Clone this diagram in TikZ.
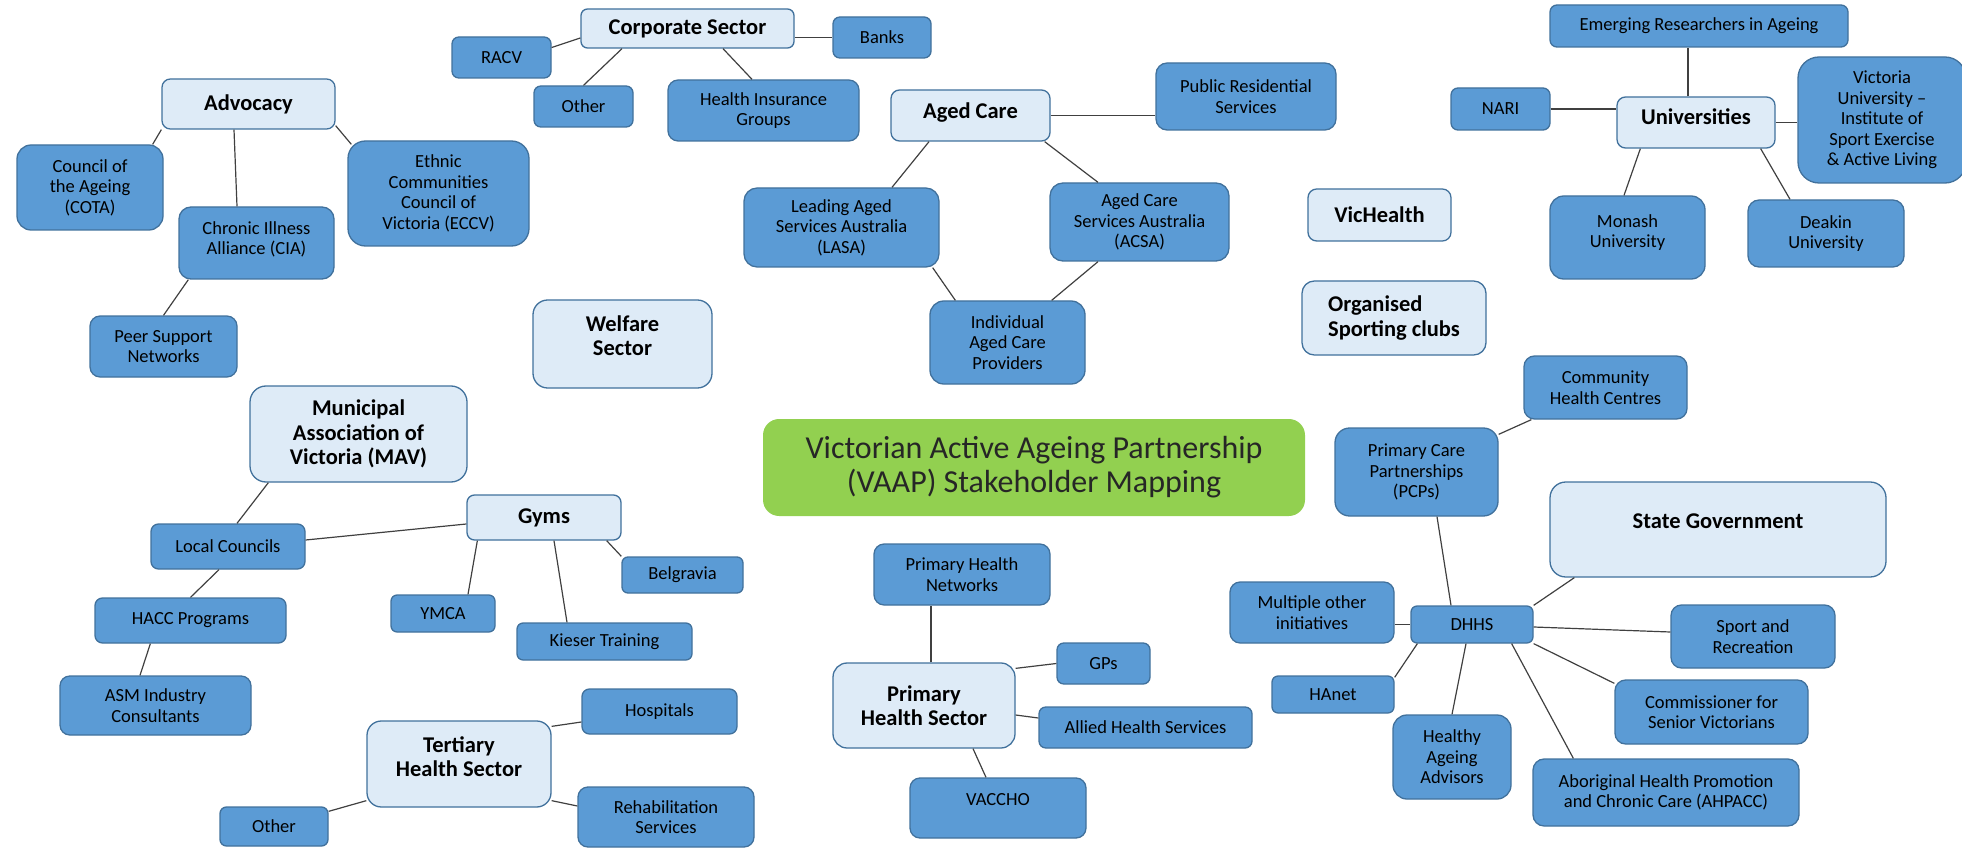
\documentclass[tikz,border=0pt]{standalone}
\usepackage{fontspec}
\setmainfont{Carlito}
\usepackage{xcolor}
\usepackage{tikz}

\definecolor{leafblue}{HTML}{5B9BD5}
\definecolor{edgeblue}{HTML}{41719C}
\definecolor{hubfill}{HTML}{DEEBF7}
\definecolor{titlegreen}{HTML}{92D050}
\definecolor{linkgray}{HTML}{404040}

\begin{document}
\begin{tikzpicture}[x=1pt,y=-1pt,
    base/.style={draw=edgeblue,line width=1.3pt,align=center,inner sep=2pt},
    leaf/.style={base,fill=leafblue,text=black,font=\fontsize{18.5}{20.5}\selectfont},
    hub/.style={base,fill=hubfill,text=black,font=\bfseries\fontsize{22.5}{24.5}\selectfont},
    dims/.style 2 args={minimum width=#1pt,minimum height=#2pt,rounded corners={min(#1,#2)/6}},
    link/.style={draw=linkgray,line width=1.2pt}]
  \useasboundingbox (0,0) rectangle (1962,850);

  % title
  \node [dims={542}{97},fill=titlegreen,text=black!85,align=center,
         font=\fontsize{32}{34}\selectfont] (title) at (1034,467.5)
        {Victorian Active Ageing Partnership\\(VAAP) Stakeholder Mapping};

  % advocacy
  \node [hub,dims={173}{50}] (adv) at (248.5,104) {Advocacy};
  \node [leaf,dims={146}{85}] (cota) at (90,187.5) {Council of\\the Ageing\\(COTA)};
  \node [leaf,dims={155}{72}] (cia) at (256.5,243) {Chronic Illness\\Alliance (CIA)\\[-10.5pt]\mbox{}};
  \node [leaf,dims={181}{105}] (eccv) at (438.5,193.5) {Ethnic\\Communities\\Council of\\Victoria (ECCV)};
  \node [leaf,dims={147}{61}] (peer) at (163.5,346.5) {Peer Support\\Networks};
  \node [hub,dims={179}{88}] (welfare) at (622.5,344) {Welfare\\Sector\\[-8pt]\mbox{}};

  % corporate sector
  \node [hub,dims={213}{39}] (corp) at (687.5,28.5) {Corporate Sector};
  \node [leaf,dims={99}{41}] (racv) at (501.5,57.5) {RACV};
  \node [leaf,dims={99}{41}] (other1) at (583.5,106.5) {Other};
  \node [leaf,dims={98}{41}] (banks) at (882,37.5) {Banks};
  \node [leaf,dims={191}{61}] (hig) at (763.5,110.5) {Health Insurance\\Groups};

  % aged care
  \node [hub,dims={159}{51}] (aged) at (970.5,115.5) {Aged Care\\[-15.5pt]\mbox{}};
  \node [leaf,dims={180}{67}] (prs) at (1246,96.5) {Public Residential\\Services};
  \node [leaf,dims={195}{79}] (lasa) at (841.5,227.5) {Leading Aged\\Services Australia\\(LASA)};
  \node [leaf,dims={179}{78}] (acsa) at (1139.5,222) {Aged Care\\Services Australia\\(ACSA)};
  \node [leaf,dims={155}{83}] (iacp) at (1007.5,342.5) {Individual\\Aged Care\\Providers};

  \node [hub,dims={143}{52}] (vich) at (1379.5,215) {VicHealth};
  \node [hub,dims={184}{74},align=left] (orgs) at (1394,318) {Organised\\Sporting clubs};

  % universities
  \node [leaf,dims={298}{42}] (emerg) at (1699,26) {Emerging Researchers in Ageing};
  \node [leaf,dims={99}{42}] (nari) at (1500.5,109) {NARI};
  \node [hub,dims={158}{51}] (univ) at (1696,122.5) {Universities\\[-13pt]\mbox{}};
  \node [leaf,dims={168}{126}] (vu) at (1882,120) {Victoria\\University --\\Institute of\\Sport Exercise\\\& Active Living};
  \node [leaf,dims={155}{83}] (monash) at (1627.5,237.5) {Monash\\University\\[-7.5pt]\mbox{}};
  \node [leaf,dims={156}{67}] (deakin) at (1826,233.5) {Deakin\\University};

  % local government
  \node [hub,dims={217}{96}] (mav) at (358.5,434) {Municipal\\Association of\\Victoria (MAV)};
  \node [leaf,dims={154}{45}] (lc) at (228,546.5) {Local Councils};
  \node [leaf,dims={191}{45}] (hacc) at (190.5,620.5) {HACC Programs};
  \node [leaf,dims={191}{59}] (asm) at (155.5,705.5) {ASM Industry\\Consultants};
  \node [hub,dims={154}{45}] (gyms) at (544,517.5) {Gyms};
  \node [leaf,dims={104}{37}] (ymca) at (443,613.5) {YMCA};
  \node [leaf,dims={175}{37}] (kieser) at (604.5,641.5) {Kieser Training};
  \node [leaf,dims={121}{36}] (belg) at (682.5,575) {Belgravia};

  % tertiary health
  \node [hub,dims={184}{86}] (tert) at (459,764) {Tertiary\\Health Sector\\[-10pt]\mbox{}};
  \node [leaf,dims={155}{45}] (hosp) at (659.5,711.5) {Hospitals};
  \node [leaf,dims={176}{60}] (rehab) at (666,817) {Rehabilitation\\Services};
  \node [leaf,dims={108}{39}] (other2) at (274,826.5) {Other};

  % primary health
  \node [hub,dims={182}{85}] (phs) at (924,705.5) {Primary\\Health Sector};
  \node [leaf,dims={176}{61}] (phn) at (962,574.5) {Primary Health\\Networks};
  \node [leaf,dims={93}{41}] (gps) at (1103.5,663.5) {GPs};
  \node [leaf,dims={213}{41}] (ahs) at (1145.5,727.5) {Allied Health Services};
  \node [leaf,dims={176}{60}] (vaccho) at (998,808) {VACCHO\\[-4pt]\mbox{}};

  % state government
  \node [hub,dims={336}{95}] (sg) at (1718,529.5) {State Government\\[-7pt]\mbox{}};
  \node [leaf,dims={122}{37}] (dhhs) at (1472,624.5) {DHHS};
  \node [leaf,dims={163}{88}] (pcp) at (1416.5,472) {Primary Care\\Partnerships\\(PCPs)};
  \node [leaf,dims={163}{63}] (chc) at (1605.5,387.5) {Community\\Health Centres};
  \node [leaf,dims={164}{61}] (multi) at (1312,612.5) {Multiple other\\initiatives};
  \node [leaf,dims={122}{37}] (hanet) at (1333,694.5) {HAnet};
  \node [leaf,dims={118}{84}] (haa) at (1452,757) {Healthy\\Ageing\\Advisors};
  \node [leaf,dims={266}{67}] (ahpacc) at (1666,792.5) {Aboriginal Health Promotion\\and Chronic Care (AHPACC)};
  \node [leaf,dims={193}{64}] (comm) at (1711.5,712) {Commissioner for\\Senior Victorians};
  \node [leaf,dims={164}{63}] (sr) at (1753,636.5) {Sport and\\Recreation};

  % connectors
  \draw [link] (adv.south west) -- ([xshift=-11pt]cota.north east);
  \draw [link] ([xshift=-14.5pt]adv.south) -- ([xshift=-19.5pt]cia.north);
  \draw [link] ([yshift=4pt]adv.south east) -- ([xshift=4pt,yshift=-4pt]eccv.north west);
  \draw [link] ([xshift=10pt]cia.south west) -- (peer.north);
  \draw [link] ([yshift=10pt]racv.east) -- ([yshift=-9.5pt]corp.west);
  \draw [link] ([xshift=-65.5pt]corp.south) -- (other1.north);
  \draw [link] (corp.east |- banks.west) -- (banks.west);
  \draw [link] ([xshift=35.5pt]corp.south) -- ([xshift=-11.5pt]hig.north);
  \draw [link] (aged.east) -- (aged.east -| prs.west);
  \draw [link] ([xshift=-41.5pt]aged.south) -- ([xshift=50.5pt]lasa.north);
  \draw [link] ([xshift=-6pt]aged.south east) -- ([xshift=-41.5pt]acsa.north);
  \draw [link] ([xshift=-7pt]lasa.south east) -- ([xshift=26pt]iacp.north west);
  \draw [link] ([xshift=-41.5pt]acsa.south) -- ([xshift=-34pt]iacp.north east);
  \draw [link] ([xshift=-8pt]univ.north) -- ([xshift=-8pt]univ.north |- emerg.south);
  \draw [link] (nari.east) -- (nari.east -| univ.west);
  \draw [link] (univ.east) -- (univ.east -| vu.west);
  \draw [link] ([xshift=24pt]univ.south west) -- ([xshift=-3.5pt]monash.north);
  \draw [link] ([xshift=-15pt]univ.south east) -- ([xshift=-36pt]deakin.north);
  \draw [link] ([xshift=19pt]mav.south west) -- ([xshift=9pt]lc.north);
  \draw [link] ([yshift=6.5pt]lc.east) -- ([yshift=-6.5pt]gyms.west);
  \draw [link] ([xshift=11pt]gyms.south west) -- ([xshift=25pt]ymca.north);
  \draw [link] ([xshift=10pt]gyms.south) -- ([xshift=-37.5pt]kieser.north);
  \draw [link] ([xshift=-15pt]gyms.south east) -- (belg.north west);
  \draw [link] ([xshift=-9pt]lc.south) -- (hacc.north);
  \draw [link] ([xshift=56pt]hacc.south west) -- ([xshift=-15.5pt]asm.north);
  \draw [link] ([yshift=-6pt]tert.north east) -- ([yshift=-10.5pt]hosp.west);
  \draw [link] ([yshift=7pt]tert.south east) -- ([yshift=11pt]rehab.west);
  \draw [link] ([yshift=7pt]tert.south west) -- ([yshift=-5pt]other2.north east);
  \draw [link] ([xshift=7pt]phs.north) -- ([xshift=7pt]phs.north |- phn.south);
  \draw [link] ([yshift=-6pt]phs.north east) -- (gps.west);
  \draw [link] ([yshift=-9.5pt]phs.east) -- ([yshift=9.5pt]ahs.west);
  \draw [link] ([xshift=49pt]phs.south) -- ([xshift=-12pt]vaccho.north);
  \draw [link] ([xshift=8pt]chc.south west) -- ([yshift=-7pt]pcp.north east);
  \draw [link] ([xshift=20.5pt]pcp.south) -- ([xshift=-21pt]dhhs.north);
  \draw [link] ([xshift=25pt]sg.south west) -- (dhhs.north east);
  \draw [link] (dhhs.west -| multi.east) -- (dhhs.west);
  \draw [link] ([yshift=-2.5pt]dhhs.east) -- ([yshift=4.5pt]sr.west);
  \draw [link] (dhhs.south east) -- ([yshift=-4pt]comm.north west);
  \draw [link] ([xshift=-22pt]dhhs.south east) -- ([xshift=41pt]ahpacc.north west);
  \draw [link] ([xshift=-6pt]dhhs.south) -- (haa.north);
  \draw [link] ([xshift=7pt]dhhs.south west) -- ([yshift=-2pt]hanet.north east);
\end{tikzpicture}
\end{document}
